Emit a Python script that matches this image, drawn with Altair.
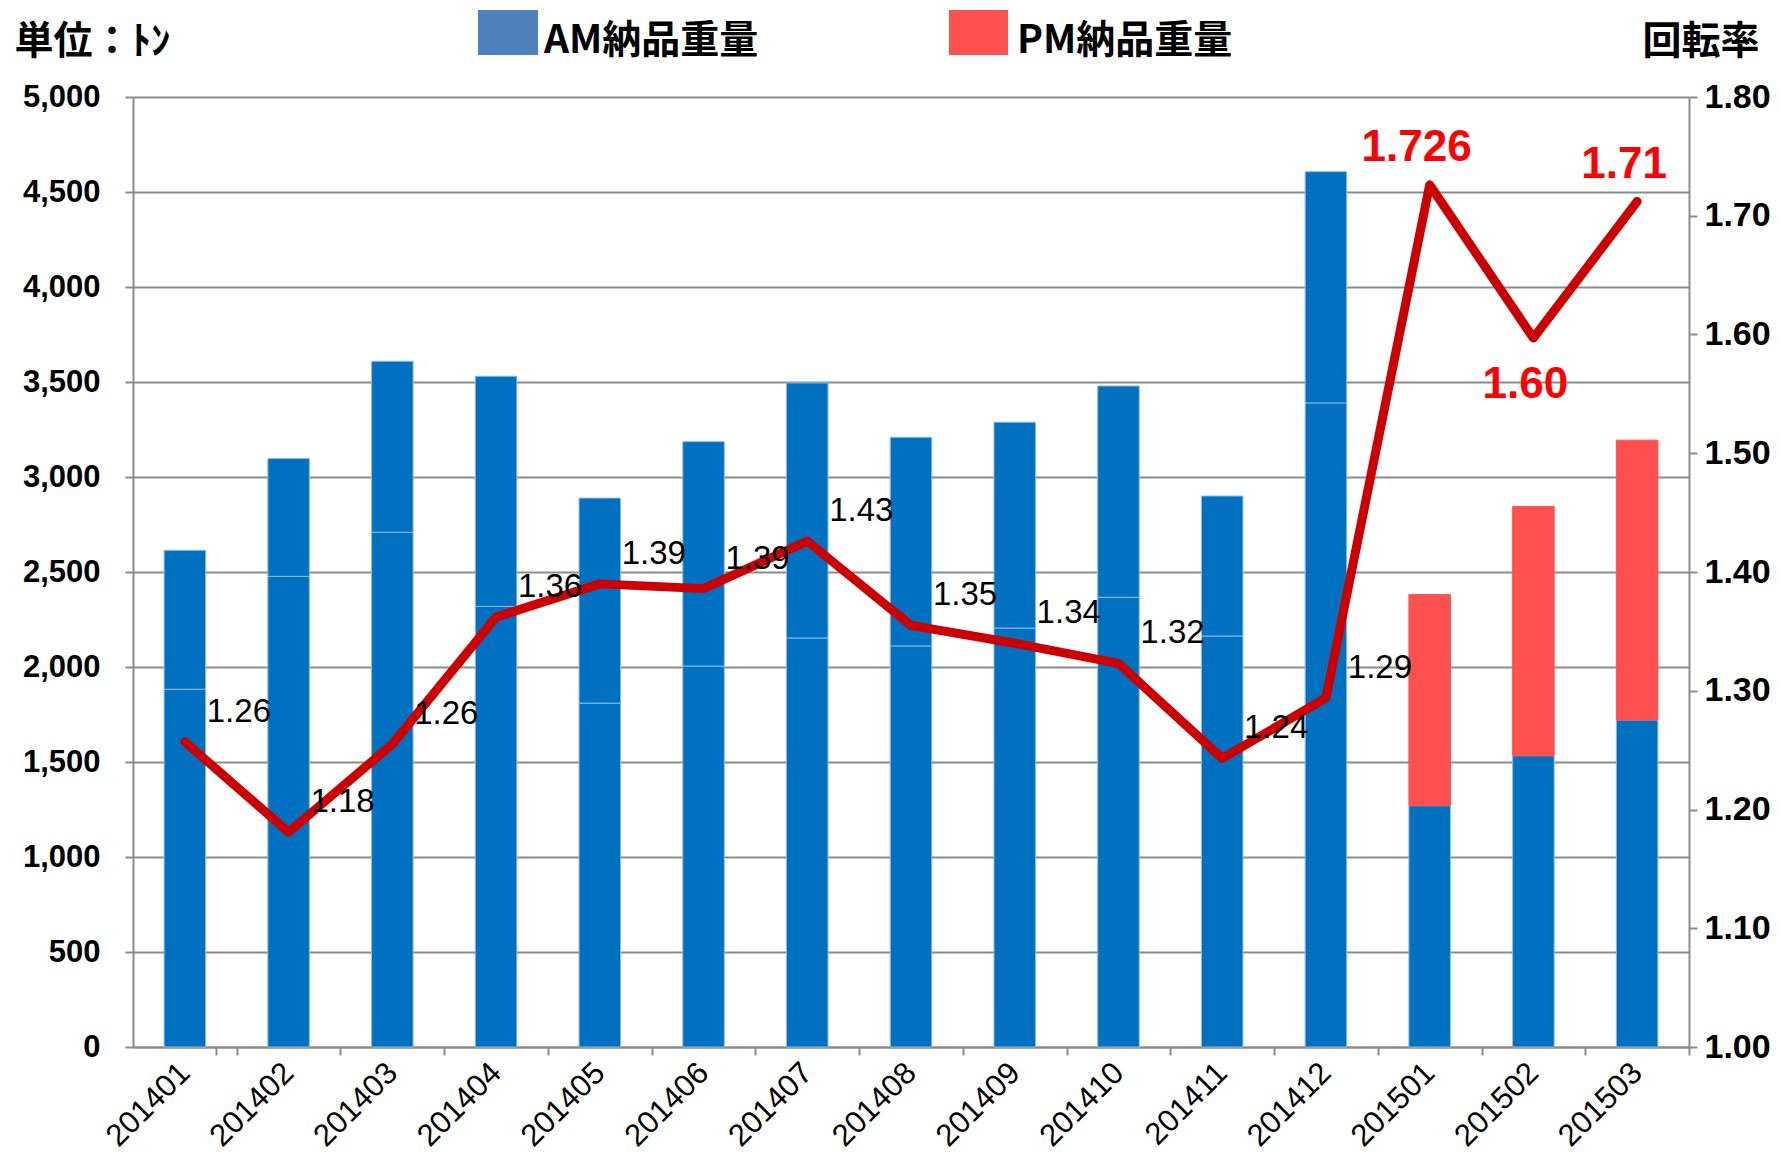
import altair as alt
import pandas as pd

# ---------------- data ----------------
months = ["201401", "201402", "201403", "201404", "201405", "201406", "201407",
          "201408", "201409", "201410", "201411", "201412", "201501", "201502", "201503"]
am_weight = [1883, 2477, 2709, 2319, 1810, 2005, 2153, 2111, 2205, 2367, 2163, 3390, 1270, 1533, 1721]
pm_weight = [731, 620, 900, 1211, 1079, 1181, 1342, 1098, 1083, 1112, 737, 1217, 1111, 1312, 1473]
turnover = [1.257, 1.181, 1.255, 1.362, 1.390, 1.386, 1.426, 1.355, 1.340, 1.323, 1.243, 1.294,
            1.726, 1.597, 1.712]
turnover_text = ["1.26", "1.18", "1.26", "1.36", "1.39", "1.39", "1.43", "1.35", "1.34", "1.32",
                 "1.24", "1.29", "1.726", "1.60", "1.71"]
highlight_start = "201501"
series_names = ["AM納品重量", "PM納品重量"]
unit_title = "単位：ﾄﾝ"
rate_title = "回転率"
weight_ticks = [0, 500, 1000, 1500, 2000, 2500, 3000, 3500, 4000, 4500, 5000]
rate_ticks = [1.0, 1.1, 1.2, 1.3, 1.4, 1.5, 1.6, 1.7, 1.8]

# ---------------- tables ----------------
rows = []
for m, a, p in zip(months, am_weight, pm_weight):
    new = m >= highlight_start
    rows.append(dict(month=m, part=series_names[0], order=0, value=a, kind="AM"))
    rows.append(dict(month=m, part=series_names[1], order=1, value=p, kind="PM" if new else "PM_old"))
bars_df = pd.DataFrame(rows)

rate_df = pd.DataFrame({"month": months, "rate": turnover, "label": turnover_text})
rate_df["new"] = rate_df["month"] >= highlight_start
prev = rate_df["rate"].shift(1)
nxt = rate_df["rate"].shift(-1)
rate_df["low"] = (rate_df["rate"] < prev) & (rate_df["rate"] < nxt)

W, H = 1556, 950
STEP = W / len(months)
FONT = "Liberation Sans"
JP = "Noto Sans CJK JP"
GRAY = "#8c8c8c"
JP_SIZE = 39
JP_Y = -56

x_scale = alt.Scale(domain=months, paddingInner=0.6, paddingOuter=0.3)
x_axis = alt.Axis(title=None, labelAngle=315, labelAlign="right", labelBaseline="middle",
                  labelFont=FONT, labelFontSize=31, labelColor="black", labelPadding=13,
                  tickOffset=STEP / 2, labelOffset=-STEP / 2, tickExtra=True,
                  tickSize=8, tickColor=GRAY, tickWidth=2,
                  domainColor=GRAY, domainWidth=2, grid=False)
x_enc = alt.X("month:N", scale=x_scale, sort=months, axis=x_axis)

bars = alt.Chart(bars_df).mark_bar(strokeWidth=1).encode(
    x=x_enc,
    y=alt.Y("value:Q", stack="zero",
            scale=alt.Scale(domain=[0, 5000], nice=False),
            axis=alt.Axis(title=unit_title, titleAngle=0, titleAlign="left", titleBaseline="middle",
                          titleX=-119, titleY=JP_Y, titleFont=JP, titleFontSize=JP_SIZE,
                          titleFontWeight="bold", titleColor="black",
                          values=weight_ticks, format=",d", labelFont=FONT, labelFontSize=31,
                          labelFontWeight="bold", labelColor="black", labelPadding=25,
                          tickSize=8, tickColor=GRAY, tickWidth=2,
                          domainColor=GRAY, domainWidth=2,
                          grid=True, gridColor=GRAY, gridWidth=2)),
    order=alt.Order("order:Q"),
    color=alt.Color("kind:N", scale=alt.Scale(domain=["AM", "PM_old", "PM"],
                                              range=["#0070C0", "#0070C0", "#FF5050"]), legend=None),
    stroke=alt.Stroke("kind:N", scale=alt.Scale(domain=["AM", "PM_old", "PM"],
                                                range=["#8DB9E3", "#8DB9E3", "#FF5050"]), legend=None),
)

rate_scale = alt.Scale(domain=[1.0, 1.8], nice=False, zero=False)

line = alt.Chart(rate_df).mark_line(color="#CC0000", strokeWidth=9, strokeCap="round",
                                    strokeJoin="round").encode(
    x=x_enc,
    y=alt.Y("rate:Q", scale=rate_scale,
            axis=alt.Axis(orient="right", title=rate_title, titleAngle=0, titleAlign="right",
                          titleBaseline="middle", titleX=70, titleY=JP_Y, titleFont=JP,
                          titleFontSize=JP_SIZE, titleFontWeight="bold", titleColor="black",
                          values=rate_ticks, format=".2f", labelFont=FONT, labelFontSize=34,
                          labelFontWeight="bold", labelColor="black", labelPadding=7,
                          tickSize=8, tickColor=GRAY, tickWidth=2,
                          domainColor=GRAY, domainWidth=2, grid=False)),
)

black_labels = alt.Chart(rate_df).transform_filter("!datum.new").mark_text(
    font=FONT, fontSize=33, color="black", dx=54, dy=-30, align="center", baseline="middle"
).encode(x=x_enc, y=alt.Y("rate:Q", scale=rate_scale, axis=None), text="label:N")

red_up = alt.Chart(rate_df).transform_filter("datum.new && !datum.low").mark_text(
    font=FONT, fontSize=44, fontWeight="bold", color="#FF0000", dx=-13, dy=-37,
    align="center", baseline="middle"
).encode(x=x_enc, y=alt.Y("rate:Q", scale=rate_scale, axis=None), text="label:N")

red_down = alt.Chart(rate_df).transform_filter("datum.new && datum.low").mark_text(
    font=FONT, fontSize=44, fontWeight="bold", color="#FF0000", dx=-8, dy=47,
    align="center", baseline="middle"
).encode(x=x_enc, y=alt.Y("rate:Q", scale=rate_scale, axis=None), text="label:N")

# legend (decoration)
leg_df = pd.DataFrame({"name": series_names})
leg_am_box = alt.Chart(leg_df).transform_filter(alt.datum.name == series_names[0]).mark_rect(
    color="#4F81BD").encode(x=alt.value(345), x2=alt.value(405), y=alt.value(-87), y2=alt.value(-42))
leg_pm_box = alt.Chart(leg_df).transform_filter(alt.datum.name == series_names[1]).mark_rect(
    color="#FF5050").encode(x=alt.value(816), x2=alt.value(875), y=alt.value(-87), y2=alt.value(-42))
leg_am_text = alt.Chart(leg_df).transform_filter(alt.datum.name == series_names[0]).mark_text(
    font=JP, fontSize=JP_SIZE, fontWeight="bold", color="black", align="left", baseline="middle"
).encode(x=alt.value(411), y=alt.value(JP_Y), text="name:N")
leg_pm_text = alt.Chart(leg_df).transform_filter(alt.datum.name == series_names[1]).mark_text(
    font=JP, fontSize=JP_SIZE, fontWeight="bold", color="black", align="left", baseline="middle"
).encode(x=alt.value(884), y=alt.value(JP_Y), text="name:N")

chart = alt.layer(
    bars, line, black_labels, red_up, red_down,
    leg_am_box, leg_pm_box, leg_am_text, leg_pm_text
).resolve_scale(y="independent").properties(
    width=W, height=H,
    autosize=alt.AutoSizeParams(type="none"),
    padding={"left": 125, "top": 89, "right": 83, "bottom": 105},
    background="white",
).configure_view(strokeWidth=0)

chart.save("out.html", embed_options={"renderer": "svg", "actions": False})
